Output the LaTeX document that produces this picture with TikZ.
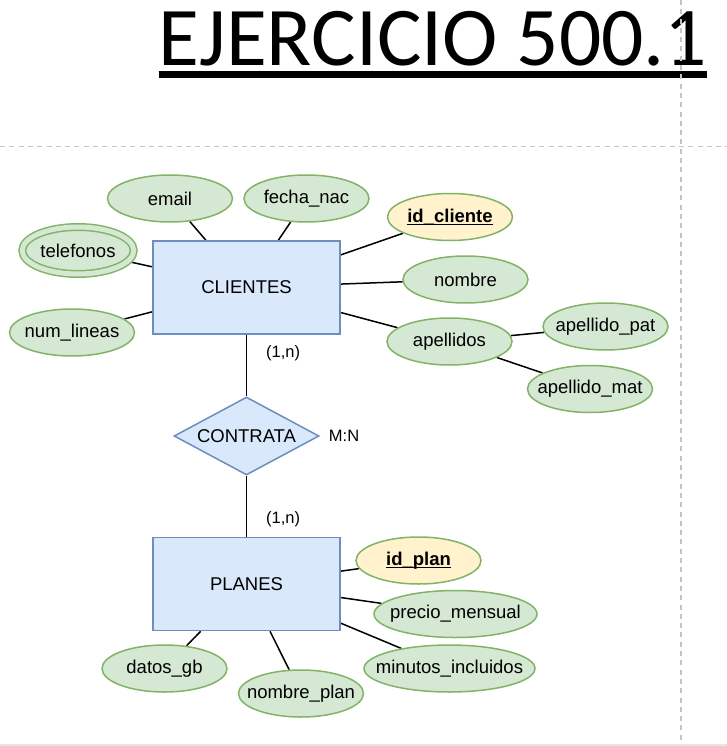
\documentclass[tikz,border=0pt]{standalone}
\usepackage{fontspec}
\setmainfont{Liberation Sans}
\newfontfamily\titulofont{Carlito}
\usetikzlibrary{shapes,positioning,backgrounds}
\definecolor{entfill}{HTML}{DAE8FC}
\definecolor{entline}{HTML}{6C8EBF}
\definecolor{attfill}{HTML}{D5E8D4}
\definecolor{attline}{HTML}{82B366}
\definecolor{keyfill}{HTML}{FFF2CC}
\definecolor{guia}{HTML}{C4C4C4}
\definecolor{borde}{HTML}{E6E6E6}
\newcommand{\etq}[1]{\makebox[0pt]{#1}}
\newcommand{\clave}[1]{\makebox[0pt]{\setbox0\hbox{\textbf{#1}}\rlap{\rule[-3.2pt]{\wd0}{1.4pt}}\box0}}

\begin{document}
\begin{tikzpicture}[x=1pt, y=-1pt,
    entidad/.style={draw=entline, fill=entfill, line width=1.5pt, minimum width=187pt,
        minimum height=93pt, inner sep=0pt, font=\fontsize{18.5}{21}\selectfont},
    atributo/.style={ellipse, draw=attline, fill=attfill, line width=1.5pt, minimum width=125pt,
        minimum height=47pt, inner sep=0pt, font=\fontsize{18.5}{21}\selectfont},
    llave/.style={atributo, fill=keyfill},
    multivalor/.style={atributo, double=attfill, double distance=5pt, minimum width=111.5pt,
        minimum height=47pt},
    relacion/.style={diamond, draw=entline, fill=entfill, line width=1.5pt, minimum width=145pt,
        minimum height=78pt, inner sep=0pt, font=\fontsize{18.5}{21}\selectfont},
    etiqueta/.style={inner sep=0pt, font=\fontsize{16.5}{19}\selectfont},
    conector/.style={draw=black, line width=1.5pt},
    guialinea/.style={draw=guia, line width=1.5pt, dash pattern=on 5pt off 4.3pt}]
    \useasboundingbox (0,0) rectangle (727,746);

    % --- Titulo ---
    \node[anchor=base west, inner sep=0pt, font=\titulofont\fontsize{83.5}{90}\selectfont] (titulo) at (158.5,66) {EJERCICIO 500.1};
    \draw[line width=7pt] ([yshift=-8.5pt]titulo.base west) -- ([yshift=-8.5pt]titulo.base east);

    % --- Guias de pagina ---
    \draw[guialinea] (0,146.5) -- (727,146.5);
    \draw[guialinea] (681,0) -- (681,742);
    \draw[borde, line width=2pt] (0,745) -- (727,745);

    % --- Entidad CLIENTES ---
    \node[entidad] (clientes) at (246.5,287.5) {CLIENTES};
    \node[atributo] (email) at (170,198.5) {\etq{email}};
    \node[atributo] (fechanac) at (306.5,198.5) {\etq{fecha\_nac}};
    \node[multivalor] (telefonos) at (78,250.5) {\etq{telefonos}};
    \node[atributo] (numlineas) at (72,332.5) {\etq{num\_lineas}};
    \node[llave] (idcliente) at (450,217) {\clave{id\_cliente}};
    \node[atributo] (nombre) at (465.5,279.5) {\etq{nombre}};
    \node[atributo] (apellidos) at (449.5,341.5) {\etq{apellidos}};
    \node[atributo] (apellidopat) at (605.5,326.5) {\etq{apellido\_pat}};
    \node[atributo] (apellidomat) at (590,389) {\etq{apellido\_mat}};

    % --- Relacion CONTRATA ---
    \node[relacion] (contrata) at (246.5,436) {\etq{CONTRATA}};
    \node[etiqueta, right=9pt of contrata] (mn) {M:N};
    \node[etiqueta, anchor=west] (card1) at (266,353) {(1,n)};
    \node[etiqueta, anchor=west] (card2) at (266,519) {(1,n)};

    % --- Entidad PLANES ---
    \node[entidad] (planes) at (246.5,584) {PLANES};
    \node[llave] (idplan) at (418.5,560.5) {\clave{id\_plan}};
    \node[atributo, minimum width=163pt] (precio) at (455.5,614) {\etq{precio\_mensual}};
    \node[atributo, minimum width=171pt] (minutos) at (449.5,668.5) {\etq{minutos\_incluidos}};
    \node[atributo] (datosgb) at (164.5,668.5) {\etq{datos\_gb}};
    \node[atributo] (nombreplan) at (301,693.5) {\etq{nombre\_plan}};

    % --- Conectores ---
    \begin{scope}[on background layer]
        \foreach \a in {email,fechanac,telefonos,numlineas,idcliente,nombre,apellidos}
            \draw[conector] (clientes) -- (\a);
        \draw[conector] (apellidos) -- (apellidopat);
        \draw[conector] (apellidos) -- (apellidomat);
        \draw[conector] (clientes) -- (contrata);
        \draw[conector] (contrata) -- (planes);
        \foreach \a in {idplan,precio,minutos,datosgb,nombreplan}
            \draw[conector] (planes) -- (\a);
    \end{scope}
\end{tikzpicture}
\end{document}
